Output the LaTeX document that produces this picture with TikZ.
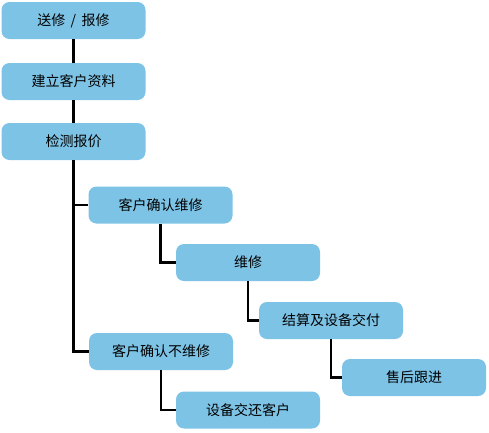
\documentclass[tikz,border=0pt]{standalone}
\usepackage{fontspec}
\newfontfamily\cjk{Noto Sans CJK SC}
\definecolor{boxblue}{HTML}{7DC3E6}
\tikzset{
  stepbox/.style={rectangle, fill=boxblue, rounded corners=8pt, minimum width=144pt, minimum height=37pt, inner sep=0pt, font=\cjk\fontsize{14}{16}\selectfont},
  link/.style={line width=2.5pt}
}
\begin{document}
\begin{tikzpicture}[x=1pt,y=-1pt]
\useasboundingbox (0,0) rectangle (489,432);

\node[stepbox] (send) at (73.5,20.5) {送修 \,/\, 报修};
\node[stepbox] (info) at (73.5,81.5) {建立客户资料};
\node[stepbox] (check) at (73.5,141.5) {检测报价};
\node[stepbox] (yes) at (160.5,205) {客户确认维修};
\node[stepbox] (repair) at (248,262.5) {维修};
\node[stepbox] (pay) at (331,320.5) {结算及设备交付};
\node[stepbox] (after) at (414,377.5) {售后跟进};
\node[stepbox] (no) at (161,351.5) {客户确认不维修};
\node[stepbox] (back) at (248,410) {设备交还客户};

\draw[link] (send) -- (info);
\draw[link] (info) -- (check);
\draw[link] (check.south) |- (yes.west);
\draw[link] (check.south) |- (no.west);
\draw[link] (yes.south) |- (repair.west);
\draw[link] (repair.south) |- (pay.west);
\draw[link] (pay.south) |- (after.west);
\draw[link] (no.south) |- (back.west);
\end{tikzpicture}
\end{document}
